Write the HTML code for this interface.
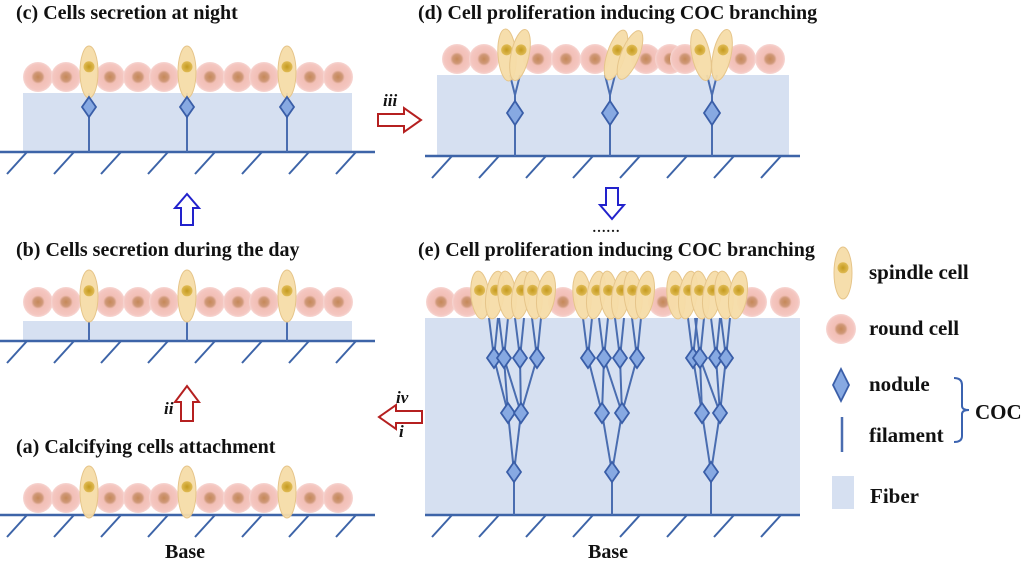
<!DOCTYPE html>
<html><head><meta charset="utf-8"><style>
html,body{margin:0;padding:0;background:#fff;}
svg{display:block;}
text{font-family:"Liberation Serif",serif;font-weight:bold;fill:#111;}
</style></head><body>
<svg id="s" width="1030" height="563" viewBox="0 0 1030 563" xmlns="http://www.w3.org/2000/svg">
<defs>
<radialGradient id="rc"><stop offset="0" stop-color="#c58858"/><stop offset="0.3" stop-color="#cf9878"/><stop offset="0.45" stop-color="#f2bfb6"/><stop offset="0.85" stop-color="#f4c6c0"/><stop offset="1" stop-color="#f7d6d2"/></radialGradient>
<radialGradient id="sc"><stop offset="0" stop-color="#c49a1e"/><stop offset="1" stop-color="#e0bb55"/></radialGradient>
</defs>
<g id="bg"></g>
<g id="fil" stroke="#4a6db0" stroke-width="2" fill="none"></g>
<g id="cells"></g>
<g id="nod"></g>
<text x="16" y="19" font-size="20">(c) Cells secretion at night</text>
<text x="16" y="256" font-size="20">(b) Cells secretion during the day</text>
<text x="16" y="453" font-size="20">(a) Calcifying cells attachment</text>
<text x="418" y="19" font-size="20">(d) Cell proliferation inducing COC branching</text>
<text x="418" y="256" font-size="20">(e) Cell proliferation inducing COC branching</text>
<text x="165" y="558" font-size="20">Base</text>
<text x="588" y="558" font-size="20">Base</text>
<text x="869" y="279" font-size="21">spindle cell</text>
<text x="869" y="335" font-size="21">round cell</text>
<text x="869" y="391" font-size="21">nodule</text>
<text x="869" y="442" font-size="21">filament</text>
<text x="975" y="419" font-size="21">COC</text>
<text x="870" y="503" font-size="21">Fiber</text>
<text x="383" y="106" font-size="17" font-style="italic" font-weight="normal">iii</text>
<text x="164" y="414" font-size="17" font-style="italic" font-weight="normal">ii</text>
<text x="396" y="403" font-size="17" font-style="italic" font-weight="normal">iv</text>
<text x="399" y="437" font-size="17" font-style="italic" font-weight="normal">i</text>
<text x="592" y="232" font-size="14" font-weight="normal">……</text>
<path d="M954,378 Q962,378 962,385 L962,406 Q962,410 969,410 Q962,410 962,414 L962,436 Q962,442 954,442" stroke="#3b63b0" stroke-width="2" fill="none"/>
<rect x="832" y="476" width="22" height="33" fill="#d6e0f1"/>
<line x1="842" y1="417" x2="842" y2="452" stroke="#4a6db0" stroke-width="2.5"/>
<path d="M181,225 L181,208 L175,208 L187,194 L199,208 L193,208 L193,225 Z" fill="#fff" stroke="#2222cc" stroke-width="2"/>
<path d="M181,421 L181,402 L175,402 L187,386 L199,402 L193,402 L193,421 Z" fill="#fff" stroke="#b52020" stroke-width="2"/>
<path d="M378,114 L404,114 L404,108 L421,120 L404,132 L404,126 L378,126 Z" fill="#fff" stroke="#b52020" stroke-width="2"/>
<path d="M422,411 L396,411 L396,405 L379,417 L396,429 L396,423 L422,423 Z" fill="#fff" stroke="#b52020" stroke-width="2"/>
<path d="M606,188 L606,205 L600,205 L612,219 L624,205 L618,205 L618,188 Z" fill="#fff" stroke="#2222cc" stroke-width="2"/>
</svg>
<script>
var NS="http://www.w3.org/2000/svg";
function el(p,t,a){var e=document.createElementNS(NS,t);for(var k in a)e.setAttribute(k,a[k]);document.getElementById(p).appendChild(e);return e;}
function base(x0,x1,y){el("bg","line",{x1:x0,y1:y,x2:x1,y2:y,stroke:"#3d64a8","stroke-width":2.5});
 for(var x=x0+27;x<x1;x+=47)el("bg","line",{x1:x,y1:y,x2:x-20,y2:y+22,stroke:"#3d64a8","stroke-width":2});}
function fiber(x,y,w,h){el("bg","rect",{x:x,y:y,width:w,height:h,fill:"#d6e0f1"});}
function rc(x,y){el("cells","circle",{cx:x,cy:y,r:15,fill:"url(#rc)"});}
function sp(x,y,rot,ry){ry=ry||26;var g=el("cells","g",{transform:"translate("+x+","+y+") rotate("+(rot||0)+")"});
 var e=document.createElementNS(NS,"ellipse");e.setAttribute("rx",9);e.setAttribute("ry",ry);e.setAttribute("fill","#f6dca8");e.setAttribute("stroke","#e6c58a");e.setAttribute("stroke-width","1");e.setAttribute("fill-opacity","0.95");g.appendChild(e);
 var c=document.createElementNS(NS,"circle");c.setAttribute("cy",-ry*0.2);c.setAttribute("r",5.5);c.setAttribute("fill","url(#sc)");g.appendChild(c);}
function nd(x,y,w,h){w=w||7;h=h||10;el("nod","path",{d:"M"+x+","+(y-h)+" L"+(x+w)+","+y+" L"+x+","+(y+h)+" L"+(x-w)+","+y+" Z",fill:"#87a9e2",stroke:"#3a5ea8","stroke-width":1.8});}
function ln(a,b,c,d){el("fil","line",{x1:a,y1:b,x2:c,y2:d});}
var round=[38,66,110,138,164,210,238,264,310,338];
fiber(23,93,329,59);base(0,375,152);
round.forEach(function(x){rc(x,77)});[89,187,287].forEach(function(x){sp(x,72);ln(x,93,x,152);nd(x,107);});
fiber(23,321,329,20);base(0,375,341);
round.forEach(function(x){rc(x,302)});[89,187,287].forEach(function(x){sp(x,296);ln(x,321,x,341);});
base(0,375,515);
round.forEach(function(x){rc(x,498)});[89,187,287].forEach(function(x){sp(x,492);});
fiber(437,75,352,81);base(425,800,156);
[457,484,538,566,595,646,670,685,741,770].forEach(function(x){rc(x,59)});
[[515,507,520],[610,616,630],[712,701,722]].forEach(function(g){
 sp(g[1],55,g[0]==712?-12:(g[0]==610?18:-4));sp(g[2],55,g[0]==610?22:12);
 ln(g[0]-5,75,g[0],95);ln(g[0]+5,75,g[0],95);ln(g[0],95,g[0],156);nd(g[0],113,8,12);});
fiber(425,318,375,197);base(425,800,515);
[441,467,563,663,752,785].forEach(function(x){rc(x,302)});
var groups=[{c:514,r2:[508,521],r1:[494,504,520,537],s:[480,495,507,521,533,546]},
 {c:612,r2:[602,622],r1:[588,604,620,637],s:[582,596,609,621,633,645]},
 {c:711,r2:[702,720],r1:[693,700,716,726],s:[676,688,700,712,724,738]}];
groups.forEach(function(g){
 g.s.forEach(function(x,i){sp(x,295,(i%2?8:-5),24);});
 g.r1.forEach(function(x){ln(x-5,318,x,358);ln(x+4,318,x,358);});
 ln(g.r1[0],358,g.r2[0],413);ln(g.r1[1],358,g.r2[0],413);ln(g.r1[2],358,g.r2[1],413);ln(g.r1[3],358,g.r2[1],413);
 ln(g.r1[1],358,g.r2[1],413);
 ln(g.r2[0],413,g.c,472);ln(g.r2[1],413,g.c,472);ln(g.c,472,g.c,515);
 g.r1.forEach(function(x){nd(x,358);});g.r2.forEach(function(x){nd(x,413);});nd(g.c,472);
});
sp(843,273,0,26);rc(841,329);nd(841,385,8,16);
</script>
</body></html>
